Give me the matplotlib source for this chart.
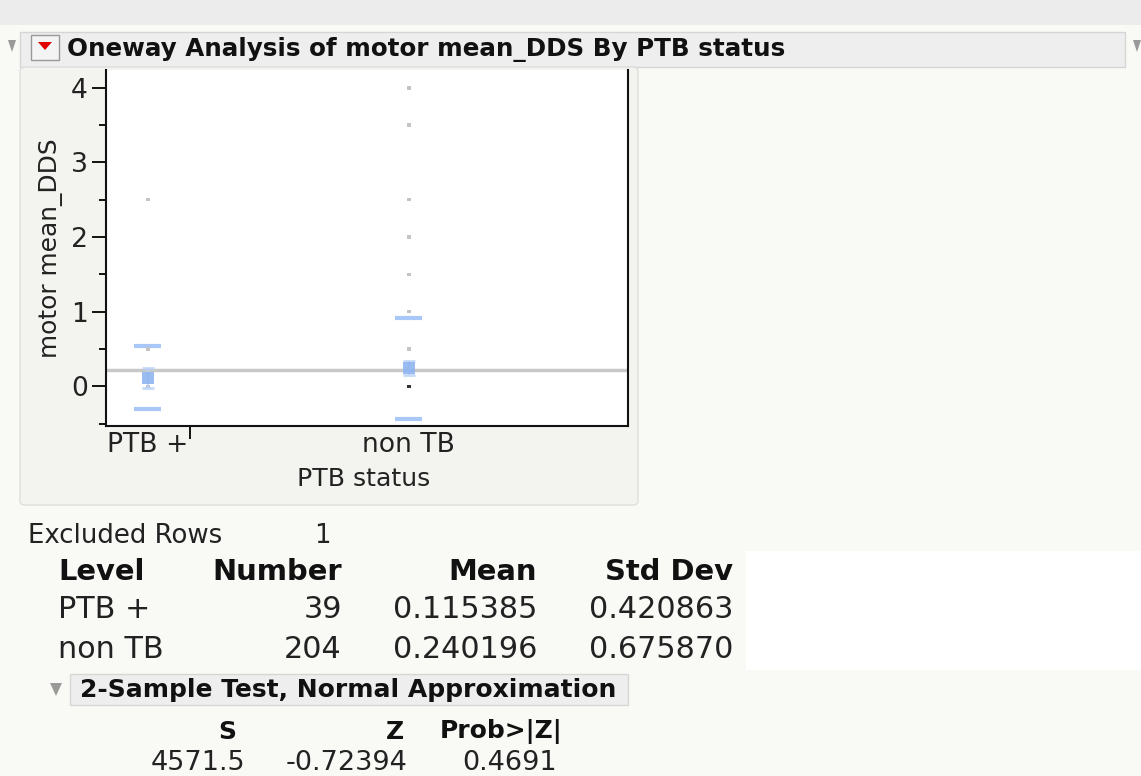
import numpy as np
import matplotlib
matplotlib.use("Agg")
import matplotlib.pyplot as plt
from matplotlib.patches import Rectangle, FancyBboxPatch, Polygon

# summary values
groups = ['PTB +', 'non TB']
counts = [39, 204]
means = [0.115385, 0.240196]
sds = [0.420863, 0.675870]
excluded_rows = 1

# distinct data levels visible in each column
ptb_pts = [0, 0.5, 2.5]
nontb_pts = [0, 0.5, 1, 1.5, 2, 2.5, 3.5, 4]

test_S = "4571.5"
test_Z = "-0.72394"
test_p = "0.4691"

W, H = 1141, 776
fig = plt.figure(figsize=(W / 100, H / 100), dpi=100)
fig.patch.set_facecolor('#f9f9f6')
plt.rcParams['font.family'] = 'DejaVu Sans'
renderer = fig.canvas.get_renderer()


def fx(x):
    return x / W


def fy(y):
    return 1 - y / H


def size_for(s, width, weight='normal'):
    t = fig.text(0, 0, s, fontsize=20, weight=weight)
    w = t.get_window_extent(renderer).width
    t.remove()
    return 20 * width / w


def txt(x, y, s, size, ha='left', weight='normal', color='#222222'):
    fig.text(fx(x), fy(y), s, fontsize=size, ha=ha, va='center', weight=weight, color=color)


def bg(patch):
    patch.set_zorder(-5)
    fig.add_artist(patch)


# background bands / panels
bg(Rectangle((0, fy(25)), 1, 25 / H, transform=fig.transFigure,
             facecolor='#ececec', edgecolor='none'))
bg(Rectangle((fx(20), fy(67)), fx(1105), 35 / H, transform=fig.transFigure,
             facecolor='#eeeeee', edgecolor='#d6d6d6', lw=1))
bg(FancyBboxPatch((fx(20), fy(505)), fx(618), 438 / H, transform=fig.transFigure,
                  boxstyle='round,pad=0,rounding_size=0.005',
                  facecolor='#f3f3ef', edgecolor='#dedede', lw=1))
bg(Rectangle((fx(746), fy(670)), fx(395), 119 / H, transform=fig.transFigure,
             facecolor='white', edgecolor='none'))
bg(Rectangle((fx(70), fy(705)), fx(558), 31 / H, transform=fig.transFigure,
             facecolor='#eeeeee', edgecolor='#d6d6d6', lw=1))

# red menu button and disclosure triangles
fig.add_artist(Rectangle((fx(31), fy(60)), fx(28), 25 / H, transform=fig.transFigure,
                         facecolor='#f4f4f4', edgecolor='#999999', lw=1))
fig.add_artist(Polygon([[fx(38), fy(42)], [fx(52), fy(42)], [fx(45), fy(50)]],
                       transform=fig.transFigure, facecolor='#e00000', edgecolor='none'))
fig.add_artist(Polygon([[fx(8), fy(40)], [fx(16), fy(40)], [fx(12), fy(52)]],
                       transform=fig.transFigure, facecolor='#9a9a9a', edgecolor='none'))
fig.add_artist(Polygon([[fx(1133), fy(40)], [fx(1141), fy(40)], [fx(1137), fy(52)]],
                       transform=fig.transFigure, facecolor='#9a9a9a', edgecolor='none'))
fig.add_artist(Polygon([[fx(50), fy(683)], [fx(62), fy(683)], [fx(56), fy(696)]],
                       transform=fig.transFigure, facecolor='#9a9a9a', edgecolor='none'))

title = "Oneway Analysis of motor mean_DDS By PTB status"
txt(67, 50, title, size_for(title, 718, 'bold'), weight='bold', color='#111111')

# plot area
ax = fig.add_axes([fx(106), fy(426), (628 - 106) / W, (426 - 70) / H])
ax.set_facecolor('white')
total = sum(counts)
edges = np.concatenate([[0], np.cumsum(counts)])
centers = (edges[:-1] + edges[1:]) / 2
ax.set_xlim(0, total)
ax.set_ylim(-0.533, 4.24)

grand = np.dot(counts, means) / total
ax.axhline(grand, color='#c8c8c8', lw=2.5, zorder=1)

half = 6.3
for i, pts in enumerate([ptb_pts, nontb_pts]):
    c = centers[i]
    cols = ['#c4c4c4'] * len(pts)
    if i == 1:
        cols[pts.index(0)] = '#333333'
    ax.scatter([c] * len(pts), pts, marker='s', s=6, c=cols, linewidths=0, zorder=3)
    # std dev lines
    for v in (means[i] - sds[i], means[i] + sds[i]):
        ax.plot([c - half, c + half], [v, v], color='#a9c7f7', lw=3, solid_capstyle='butt', zorder=2)
    # mean error bar
    ci = 1.97 * sds[i] / np.sqrt(counts[i])
    ax.errorbar(c, means[i], yerr=ci, fmt='none', ecolor='#b7d0f7',
                elinewidth=1.5, capsize=4, capthick=2, alpha=0.8, zorder=4)
    ax.plot(c, means[i], marker='s', ms=8, color='#8fb5f0', mew=0, alpha=0.9, zorder=5)

ax.spines['top'].set_visible(False)
for sp in ['left', 'bottom', 'right']:
    ax.spines[sp].set_color('#111111')
    ax.spines[sp].set_linewidth(1.5)

tick_size = size_for('non TB', 93)
ax.set_yticks([0, 1, 2, 3, 4])
ax.set_yticks(np.arange(-0.5, 4.1, 0.5), minor=True)
ax.tick_params(axis='y', which='major', length=10, width=1.3, labelsize=tick_size,
               labelcolor='#222222', pad=3)
ax.tick_params(axis='y', which='minor', length=5, width=1.3)
ax.set_xticks([counts[0]])
ax.set_xticklabels([''])
ax.set_xticks(centers, minor=True)
ax.set_xticklabels(groups, minor=True)
ax.tick_params(axis='x', which='major', length=9, width=1.3)
ax.tick_params(axis='x', which='minor', length=0, labelsize=tick_size, labelcolor='#222222', pad=4)

ax.set_ylabel('motor mean_DDS', fontsize=size_for('motor mean_DDS', 220), color='#222222', labelpad=6)
txt(364, 479, 'PTB status', size_for('PTB status', 133), ha='center')

# report text below
small = size_for('Excluded Rows', 194)
txt(28, 536, 'Excluded Rows', small)
txt(331, 536, str(excluded_rows), small, ha='right')

hdr = size_for('Std Dev', 128, 'bold')
row = size_for('0.115385', 144)
right_x = [342, 537, 733]
txt(58, 572, 'Level', hdr, weight='bold', color='#111111')
for x, s in zip(right_x, ['Number', 'Mean', 'Std Dev']):
    txt(x, 572, s, hdr, ha='right', weight='bold', color='#111111')
for j, y in enumerate([610, 650]):
    txt(58, y, groups[j], row)
    txt(right_x[0], y, str(counts[j]), row, ha='right')
    txt(right_x[1], y, f"{means[j]:.6f}", row, ha='right')
    txt(right_x[2], y, f"{sds[j]:.6f}", row, ha='right')

sub = "2-Sample Test, Normal Approximation"
txt(80, 690, sub, size_for(sub, 535, 'bold'), weight='bold', color='#111111')

tst = size_for('Prob>|Z|', 123, 'bold')
val = size_for(test_Z, 122)
txt(236, 732, 'S', tst, ha='right', weight='bold', color='#111111')
txt(404, 732, 'Z', tst, ha='right', weight='bold', color='#111111')
txt(563, 732, 'Prob>|Z|', tst, ha='right', weight='bold', color='#111111')
txt(245, 763, test_S, val, ha='right')
txt(408, 763, test_Z, val, ha='right')
txt(557, 763, test_p, val, ha='right')

fig.savefig('out.png', dpi=100, facecolor=fig.get_facecolor())
